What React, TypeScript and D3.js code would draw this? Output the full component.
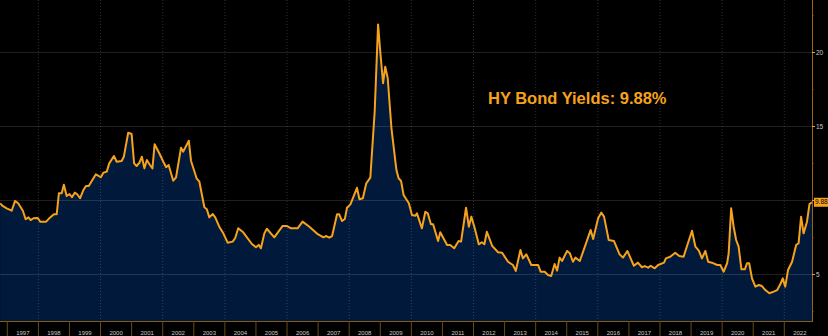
import React from 'react';
import * as d3 from 'd3';

// HY bond yields (%); dates as decimal years
const dates = [
  1996.77, 1996.85, 1996.98, 1997.14, 1997.25, 1997.35, 1997.50, 1997.59, 1997.68, 1997.75,
  1997.84, 1997.98, 1998.06, 1998.25, 1998.37, 1998.50, 1998.59, 1998.66, 1998.75, 1998.82,
  1998.91, 1999.00, 1999.08, 1999.17, 1999.25, 1999.34, 1999.45, 1999.53, 1999.62, 1999.85,
  2000.01, 2000.09, 2000.20, 2000.28, 2000.43, 2000.52, 2000.68, 2000.75, 2000.89, 2001.00,
  2001.08, 2001.16, 2001.25, 2001.33, 2001.41, 2001.49, 2001.59, 2001.67, 2001.74, 2001.89,
  2002.02, 2002.11, 2002.19, 2002.34, 2002.43, 2002.59, 2002.66, 2002.84, 2002.91, 2003.09,
  2003.18, 2003.34, 2003.42, 2003.50, 2003.61, 2003.69, 2003.82, 2003.95, 2004.09, 2004.25,
  2004.33, 2004.43, 2004.59, 2004.87, 2005.00, 2005.09, 2005.16, 2005.27, 2005.35, 2005.59,
  2005.86, 2005.99, 2006.13, 2006.34, 2006.50, 2006.72, 2006.99, 2007.17, 2007.25, 2007.36,
  2007.45, 2007.61, 2007.68, 2007.77, 2007.86, 2007.93, 2008.04, 2008.25, 2008.33, 2008.44,
  2008.55, 2008.68, 2008.82, 2008.93, 2009.00, 2009.09, 2009.16, 2009.24, 2009.36, 2009.52,
  2009.59, 2009.67, 2009.75, 2009.92, 2010.02, 2010.13, 2010.18, 2010.34, 2010.45, 2010.53,
  2010.63, 2010.70, 2010.86, 2010.93, 2011.15, 2011.25, 2011.38, 2011.52, 2011.60, 2011.76,
  2011.85, 2011.93, 2012.04, 2012.17, 2012.27, 2012.35, 2012.43, 2012.60, 2012.79, 2012.92,
  2013.11, 2013.27, 2013.36, 2013.51, 2013.59, 2013.70, 2013.86, 2014.08, 2014.16, 2014.29,
  2014.40, 2014.50, 2014.61, 2014.69, 2014.77, 2014.85, 2015.01, 2015.10, 2015.20, 2015.28,
  2015.42, 2015.60, 2015.77, 2015.85, 2016.01, 2016.11, 2016.20, 2016.35, 2016.52, 2016.70,
  2016.81, 2016.95, 2017.16, 2017.29, 2017.42, 2017.51, 2017.62, 2017.70, 2017.83, 2017.94,
  2018.13, 2018.19, 2018.33, 2018.49, 2018.62, 2018.76, 2018.87, 2019.03, 2019.14, 2019.25,
  2019.35, 2019.46, 2019.55, 2019.67, 2019.84, 2019.94, 2020.05, 2020.16, 2020.21, 2020.29,
  2020.37, 2020.45, 2020.53, 2020.62, 2020.73, 2020.80, 2020.87, 2020.96, 2021.07, 2021.18,
  2021.28, 2021.39, 2021.52, 2021.66, 2021.77, 2021.87, 2021.95, 2022.03, 2022.12, 2022.25,
  2022.38, 2022.46, 2022.54, 2022.62, 2022.73, 2022.81, 2022.89,
];

const yields = [
  9.81, 9.63, 9.47, 9.31, 9.97, 9.81, 9.31, 8.73, 8.86, 8.68,
  8.80, 8.82, 8.57, 8.57, 8.84, 9.07, 9.07, 10.49, 10.49, 11.07,
  10.30, 10.44, 10.22, 10.53, 10.42, 10.15, 10.71, 10.98, 10.98, 11.77,
  11.57, 11.88, 11.95, 12.51, 13.01, 12.62, 12.67, 12.96, 14.58, 14.49,
  12.51, 12.33, 12.55, 12.96, 12.17, 12.74, 12.40, 12.17, 13.80, 13.19,
  12.62, 12.25, 12.40, 11.34, 11.57, 13.57, 13.30, 14.04, 12.69, 11.50,
  11.27, 9.54, 9.41, 8.86, 9.09, 8.86, 8.23, 7.78, 7.15, 7.22,
  7.45, 8.12, 7.85, 7.06, 6.84, 7.00, 6.77, 7.78, 8.09, 7.51,
  8.28, 8.28, 8.12, 8.12, 8.57, 8.23, 7.72, 7.51, 7.60, 7.49,
  7.60, 9.07, 9.07, 8.61, 8.75, 9.51, 9.74, 10.86, 10.08, 10.15,
  11.16, 11.54, 16.0, 21.9, 20.05, 17.92, 19.04, 18.26, 14.88, 12.06,
  11.5, 11.32, 10.37, 9.81, 9.02, 8.97, 9.13, 8.12, 9.24, 9.13,
  8.39, 8.39, 7.26, 7.85, 6.99, 6.99, 6.77, 7.26, 7.22, 9.51,
  8.23, 8.91, 8.12, 7.04, 7.18, 7.04, 7.89, 6.93, 6.50, 6.47,
  5.86, 5.64, 5.24, 6.66, 6.09, 6.36, 5.64, 5.64, 5.19, 5.19,
  4.97, 4.90, 5.71, 5.26, 6.14, 5.91, 6.59, 6.43, 5.86, 6.14,
  5.91, 6.99, 8.01, 7.40, 8.80, 9.18, 8.91, 7.33, 7.26, 6.36,
  6.14, 6.59, 5.59, 5.80, 5.49, 5.57, 5.46, 5.59, 5.42, 5.64,
  5.80, 6.09, 6.20, 6.47, 6.25, 6.20, 6.93, 7.96, 6.88, 6.61,
  6.09, 6.59, 5.86, 5.80, 5.64, 5.64, 5.19, 5.76, 6.43, 9.47,
  8.23, 7.33, 6.88, 5.35, 5.35, 5.76, 5.76, 4.74, 4.18, 4.29,
  4.22, 3.95, 3.73, 3.84, 3.95, 4.34, 4.74, 4.18, 5.30, 5.86,
  6.99, 7.11, 8.91, 7.78, 8.57, 9.76, 9.88,
];

const years = d3.range(1997, 2023);
const gridYears = [1998, 2000, 2002, 2004, 2006, 2008, 2010, 2012, 2014, 2016, 2018, 2020, 2022];
const yGrid = [5, 10, 15, 20];
const yLabels = [5, 15, 20];
const yMinor = [2.5, 7.5, 12.5, 17.5, 22.5];
const lastValue = 9.88;
const title = 'HY Bond Yields: 9.88%';

const W = 828;
const H = 336;
const ORANGE = '#f7a21b';

export default function App() {
  const plotRight = 812;
  const plotBottom = 321;

  const x = d3.scaleLinear().domain([1996.765, 2022.891]).range([0, plotRight]);
  const y = d3.scaleLinear().domain([1.858, 23.547]).range([plotBottom, 0]);

  const data = d3.zip(dates, yields);

  const line = d3.line<number[]>()
    .x(d => x(d[0]))
    .y(d => y(d[1]));

  const area = d3.area<number[]>()
    .x(d => x(d[0]))
    .y0(plotBottom)
    .y1(d => y(d[1]));

  return (
    <svg
      width={W}
      height={H}
      style={{ position: 'fixed', left: 0, top: 0, background: '#000' }}
      fontFamily="'Liberation Sans', Arial, sans-serif"
    >
      <rect x={0} y={0} width={W} height={H} fill="#000" />

      {/* area under the line */}
      <path d={area(data) || ''} fill="#011a3b" />

      {/* horizontal grid */}
      {yGrid.map(v => (
        <line key={'hg' + v} x1={0} x2={plotRight} y1={y(v)} y2={y(v)}
          stroke="#ffffff" strokeOpacity={0.13} strokeWidth={1} />
      ))}

      {/* vertical dotted grid every 2 years */}
      {gridYears.map(yr => (
        <line key={'vg' + yr} x1={x(yr)} x2={x(yr)} y1={0} y2={plotBottom}
          stroke="#ffffff" strokeOpacity={0.18} strokeWidth={1} strokeDasharray="1,2" />
      ))}

      {/* yield line */}
      <path d={line(data) || ''} fill="none" stroke={ORANGE} strokeWidth={2} strokeLinejoin="round" />

      {/* bottom axis */}
      <line x1={0} x2={plotRight} y1={plotBottom + 0.5} y2={plotBottom + 0.5} stroke="#8a5a12" strokeWidth={1} />
      {years.map(yr => (
        <line key={'xt' + yr} x1={x(yr)} x2={x(yr)} y1={plotBottom} y2={H}
          stroke="#6b4a14" strokeWidth={1} />
      ))}
      {years.map(yr => (
        <text key={'xl' + yr} x={x(yr + 0.5)} y={335} fontSize={6} fill="#c8c8c8" textAnchor="middle">
          {yr}
        </text>
      ))}

      {/* right axis */}
      <line x1={plotRight + 0.5} x2={plotRight + 0.5} y1={0} y2={plotBottom + 1} stroke="#9a6414" strokeWidth={1} />
      {yGrid.map(v => (
        <line key={'yt' + v} x1={plotRight} x2={plotRight + 3} y1={y(v)} y2={y(v)} stroke={ORANGE} strokeWidth={1} />
      ))}
      {yMinor.map(v => (
        <line key={'ym' + v} x1={plotRight} x2={plotRight + 1.5} y1={y(v)} y2={y(v)} stroke="#9a6414" strokeWidth={1} />
      ))}
      {yLabels.map(v => (
        <text key={'yl' + v} x={plotRight + 4} y={y(v) + 2.2} fontSize={6.5} fill="#c8c8c8">
          {v}
        </text>
      ))}

      {/* last value tag */}
      <rect x={plotRight + 2} y={y(lastValue) - 4.5} width={16} height={9} fill={ORANGE} />
      <text x={plotRight + 3} y={y(lastValue) + 2.2} fontSize={6.5} fill="#000">
        {lastValue.toFixed(2)}
      </text>

      {/* title */}
      <text x={488} y={104} fontSize={16.5} fontWeight="bold" fill={ORANGE}>
        {title}
      </text>
    </svg>
  );
}
